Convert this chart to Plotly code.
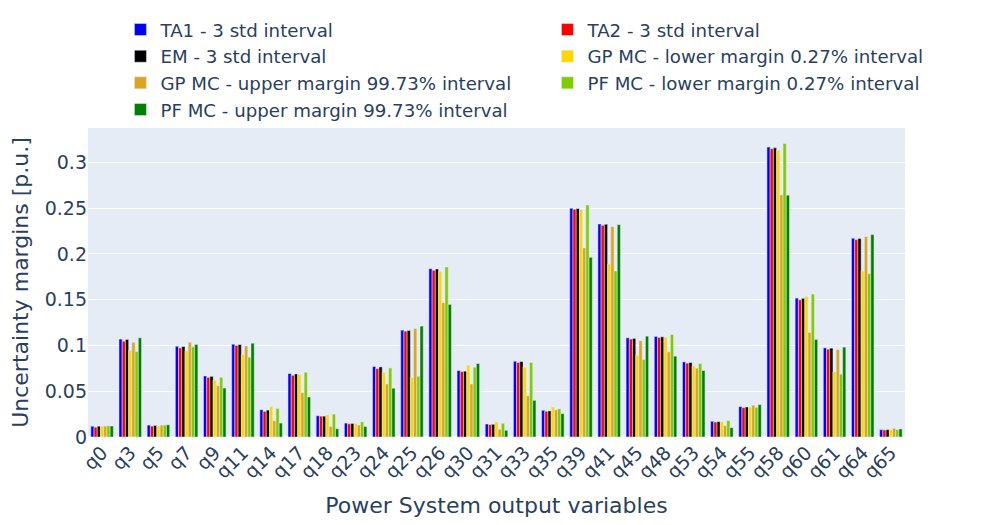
import plotly.graph_objects as go

categories = ["q0", "q3", "q5", "q7", "q9", "q11", "q14", "q17", "q18", "q23", "q24", "q25", "q26", "q30",
              "q31", "q33", "q35", "q39", "q41", "q45", "q48", "q53", "q54", "q55", "q58", "q60", "q61", "q64", "q65"]

ta1 = [0.0118, 0.107, 0.0130, 0.0992, 0.0667, 0.1014, 0.0298, 0.0693, 0.0232, 0.0152, 0.0770, 0.1168, 0.1839, 0.0726,
       0.0142, 0.0828, 0.0292, 0.2500, 0.2328, 0.1084, 0.1099, 0.0821, 0.0172, 0.0332, 0.3168, 0.1518, 0.0974, 0.2172, 0.0080]
ta2 = [0.0107, 0.1047, 0.0119, 0.0974, 0.0652, 0.1000, 0.0280, 0.0674, 0.0228, 0.0144, 0.0748, 0.1157, 0.1821, 0.0715,
       0.0135, 0.0814, 0.0281, 0.2489, 0.2314, 0.1070, 0.1088, 0.0807, 0.0164, 0.0321, 0.3150, 0.1500, 0.0960, 0.2157, 0.0077]
em = [0.0118, 0.1066, 0.0126, 0.0989, 0.0663, 0.1010, 0.0294, 0.0689, 0.0228, 0.0148, 0.0766, 0.1164, 0.1836, 0.0719,
      0.0139, 0.0825, 0.0285, 0.2496, 0.2325, 0.1077, 0.1095, 0.0814, 0.0168, 0.0328, 0.3160, 0.1515, 0.0971, 0.2168, 0.0080]
gp_lower = [0.0120, 0.0948, 0.0120, 0.0941, 0.0620, 0.0900, 0.0334, 0.0685, 0.0243, 0.0148, 0.0704, 0.0650, 0.1807, 0.0785,
            0.0164, 0.0763, 0.0328, 0.2485, 0.1890, 0.0894, 0.1091, 0.0777, 0.0168, 0.0325, 0.3135, 0.1536, 0.0712, 0.1814, 0.0080]
gp_upper = [0.0120, 0.1036, 0.0130, 0.1036, 0.0560, 0.0996, 0.0177, 0.0484, 0.0115, 0.0130, 0.0580, 0.1186, 0.1467, 0.0580,
            0.0084, 0.0449, 0.0296, 0.2066, 0.2299, 0.1051, 0.0931, 0.0752, 0.0124, 0.0347, 0.2646, 0.1142, 0.0956, 0.2190, 0.0095]
pf_lower = [0.0122, 0.0934, 0.0130, 0.0985, 0.0652, 0.0872, 0.0312, 0.0707, 0.0250, 0.0166, 0.0755, 0.0664, 0.1858, 0.0763,
            0.0150, 0.0814, 0.0307, 0.2536, 0.1814, 0.0847, 0.1120, 0.0803, 0.0179, 0.0325, 0.3208, 0.1562, 0.0686, 0.1785, 0.0080]
pf_upper = [0.0120, 0.1084, 0.0133, 0.1011, 0.0535, 0.1025, 0.0152, 0.0437, 0.0090, 0.0115, 0.0533, 0.1212, 0.1449, 0.0803,
            0.0073, 0.0401, 0.0255, 0.1964, 0.2321, 0.1102, 0.0883, 0.0726, 0.0102, 0.0354, 0.2642, 0.1066, 0.0982, 0.2212, 0.0088]

series = [
    ("TA1 - 3 std interval", ta1, "blue"),
    ("TA2 - 3 std interval", ta2, "red"),
    ("EM - 3 std interval", em, "black"),
    ("GP MC - lower margin 0.27% interval", gp_lower, "gold"),
    ("GP MC - upper margin 99.73% interval", gp_upper, "goldenrod"),
    ("PF MC - lower margin 0.27% interval", pf_lower, "#7FCC00"),
    ("PF MC - upper margin 99.73% interval", pf_upper, "green"),
]

fig = go.Figure()
for name, vals, color in series:
    fig.add_trace(go.Bar(x=categories, y=vals, name=name, marker_color=color))

fig.update_layout(
    width=975, height=517,
    template="plotly",
    font=dict(size=19, family="Verdana, DejaVu Sans, sans-serif"),
    margin=dict(l=80, r=78, t=120, b=88, autoexpand=False),
    legend=dict(orientation="h", x=1.085, y=1.378, xanchor="right", yanchor="top",
                font=dict(size=18.2), entrywidth=382, bgcolor="rgba(0,0,0,0)"),
    xaxis=dict(title=dict(text="Power System output variables", font=dict(size=22)), tickangle=-45),
    yaxis=dict(title=dict(text="Uncertainty margins [p.u.]", font=dict(size=22), standoff=18)),
)

fig.write_html("out.html")
